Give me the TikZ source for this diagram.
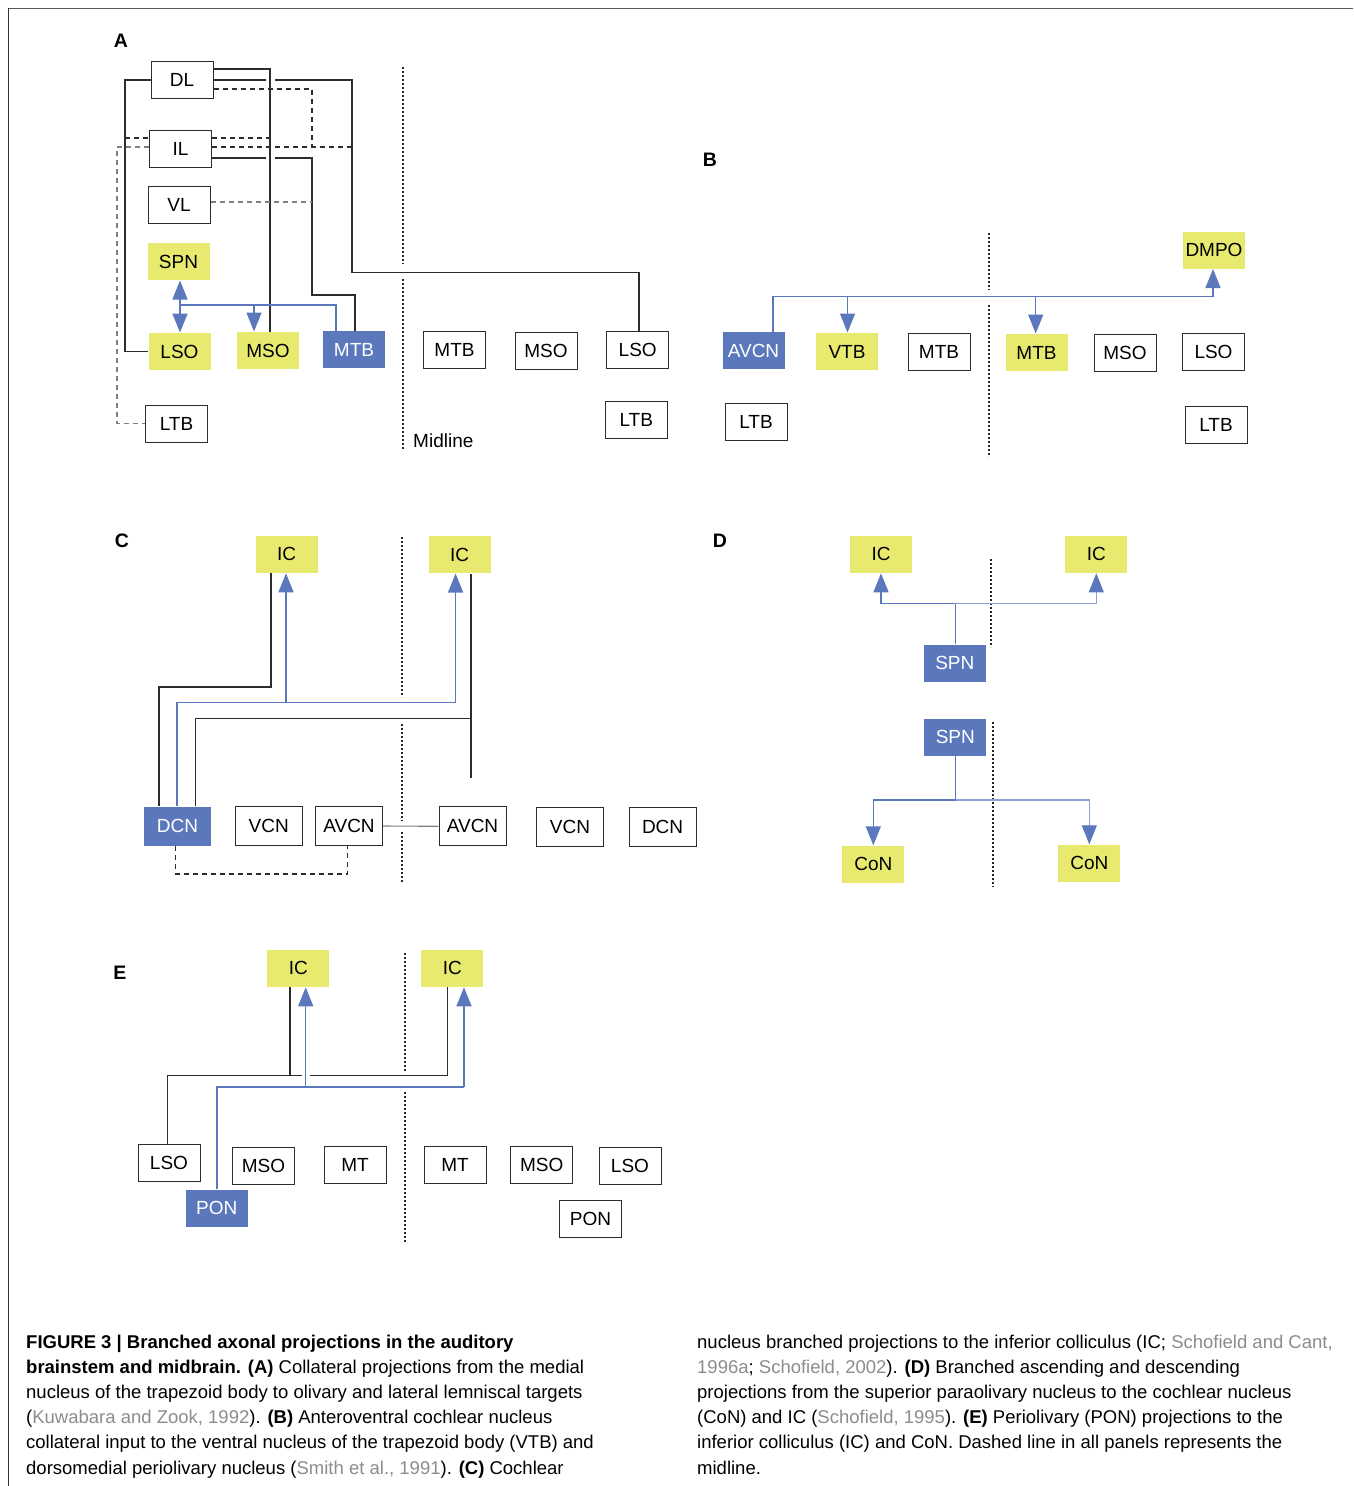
\documentclass[tikz,border=0pt]{standalone}
\usepackage{fontspec}
\setmainfont{Liberation Sans}
\usetikzlibrary{arrows.meta}
\definecolor{ylw}{RGB}{232,234,112}
\definecolor{blu}{RGB}{92,120,189}
\definecolor{blul}{RGB}{140,160,210}
\definecolor{edge}{RGB}{45,45,45}
\definecolor{cite}{RGB}{140,140,140}
\tikzset{
 nbox/.style={draw=edge, line width=1pt, fill=white, minimum width=62pt, minimum height=37pt, inner sep=0pt, font=\fontsize{19}{20}\selectfont, text=black},
 cbox/.style={nbox, minimum width=67pt, minimum height=39pt},
 ybox/.style={nbox, draw=none, fill=ylw},
 bbox/.style={nbox, draw=none, fill=blu, text=white},
 conn/.style={draw=edge, line width=1.1pt},
 dsh/.style={conn, dash pattern=on 5pt off 4pt},
 gdsh/.style={dsh, draw=gray},
 bl/.style={draw=blu, line width=1.5pt},
 barr/.style={bl, -{Triangle[length=19pt,width=15pt,color=blu]}},
 lbarr/.style={barr, draw=blul, line width=1.2pt},
 midl/.style={draw=black!85, line width=2pt, dash pattern=on 1.6pt off 2.4pt},
 paneltxt/.style={font=\fontsize{19.5}{20}\selectfont\bfseries, inner sep=0pt},
 captxt/.style={anchor=base west, inner sep=0pt, font=\fontsize{18.5}{22}\selectfont},
}
\newcommand{\cit}[1]{\textcolor{cite}{#1}}
\begin{document}
\begin{tikzpicture}[x=1pt,y=-1pt]
\useasboundingbox (0,0) rectangle (1353,1486);
% frame
\draw[draw=gray!70!black, line width=1.6pt] (8,8.5) -- (1353,8.5);
\draw[draw=black!80, line width=1.2pt] (8.5,8) -- (8.5,1486);

% ---------------- Panel A ----------------
\node[paneltxt] (labA) at (121,41) {A};
\node[nbox] (aDL) at (182,80) {DL};
\node[nbox] (aIL) at (180.5,148.5) {IL};
\node[nbox] (aVL) at (179,204.5) {VL};
\node[ybox] (aSPN) at (178.5,261.5) {SPN};
\node[ybox] (aLSO) at (179.5,351.5) {LSO};
\node[ybox] (aMSO) at (268,350.5) {MSO};
\node[bbox] (aMTB) at (354,349.5) {MTB};
\node[nbox] (aLTB) at (176.5,423.5) {LTB};
\node[nbox] (aMTB2) at (454.5,350) {MTB};
\node[nbox] (aMSO2) at (546,350.8) {MSO};
\node[nbox] (aLSO2) at (637.7,350.3) {LSO};
\node[nbox] (aLTB2) at (636.3,420) {LTB};
\node[anchor=base west, inner sep=0pt, font=\fontsize{19}{20}\selectfont] (midlbl) at (413,447) {Midline};
\draw[midl] (403,67) -- (403,264);
\draw[midl] (403,279) -- (403,450);
% solid
\draw[conn] (aLSO.west) -- (125,351.5) |- (aDL.west);
\draw[conn] (aDL.east |- 0,69) -- (270,69) -- (270,0 |- aMSO.north);
\draw[conn] (aDL.east) -- (266,80);
\draw[conn] (275,80) -- (352,80) -- (352,272.3) -- (639,272.3) -- (639,0 |- aLSO2.north);
\draw[conn] (aIL.east |- 0,158) -- (266,158);
\draw[conn] (275,158) -- (312,158) -- (312,295) -- (355,295) -- (355,0 |- aMTB.north);
% dashed
\draw[dsh] (aDL.east |- 0,89) -- (312,89) -- (312,147);
\draw[gdsh] (aVL.east |- 0,202) -- (312,202);
\draw[dsh] (125,138) -- (aIL.west |- 0,138);
\draw[dsh] (aIL.east |- 0,138) -- (270,138);
\draw[dsh] (aIL.east |- 0,147) -- (352,147);
\draw[gdsh] (aIL.west |- 0,147) -- (117,147) |- (aLTB.west);
% blue
\draw[bl] (336,0 |- aMTB.north) -- (336,305) -- (180,305);
\draw[barr] (180,305) -- (180,0 |- aSPN.south);
\draw[barr] (180,305) -- (180,0 |- aLSO.north);
\draw[barr] (254,305) -- (254,0 |- aMSO.north);

% ---------------- Panel B ----------------
\node[paneltxt] (labB) at (710,160) {B};
\node[ybox] (bDMPO) at (1214,250) {DMPO};
\node[bbox] (bAVCN) at (753.5,350.5) {AVCN};
\node[ybox] (bVTB) at (847,351.5) {VTB};
\node[nbox] (bMTB) at (939,351.5) {MTB};
\node[ybox] (bMTB2) at (1036.5,352.5) {MTB};
\node[nbox] (bMSO) at (1125,352.5) {MSO};
\node[nbox] (bLSO) at (1213.5,352) {LSO};
\node[nbox] (bLTB) at (756,421.5) {LTB};
\node[nbox] (bLTB2) at (1216,424.7) {LTB};
\draw[midl] (989,233) -- (989,290);
\draw[midl] (989,305) -- (989,457);
\draw[bl] (773,0 |- bAVCN.north) -- (773,296.7) -- (1213,296.7);
\draw[barr] (1213,296.7) -- (1213,0 |- bDMPO.south);
\draw[barr] (847.5,296.7) -- (847.5,0 |- bVTB.north);
\draw[barr] (1035.7,296.7) -- (1035.7,0 |- bMTB2.north);

% ---------------- Panel C ----------------
\node[paneltxt] (labC) at (122,541) {C};
\node[ybox] (cIC1) at (286.7,554.3) {IC};
\node[ybox] (cIC2) at (459.5,554.5) {IC};
\node[cbox, draw=none, fill=blu, text=white] (cDCN) at (177.5,826) {DCN};
\node[cbox] (cVCN) at (268.7,826) {VCN};
\node[cbox] (cAVCN) at (349,826) {AVCN};
\node[cbox] (cAVCN2) at (472.5,826.3) {AVCN};
\node[cbox] (cVCN2) at (570,827) {VCN};
\node[cbox] (cDCN2) at (662.6,827) {DCN};
\coordinate (cEnd) at (471,778);
\draw[midl] (402,537) -- (402,697);
\draw[midl] (402,724) -- (402,821);
\draw[midl] (402,832) -- (402,883);
\draw[conn] (159,0 |- cDCN.north) -- (159,687) -- (271,687) -- (271,0 |- cIC1.south);
\draw[bl] (176.8,0 |- cDCN.north) -- (176.8,702.7) -- (455.6,702.7);
\draw[barr] (455.6,702.7) -- (455.6,0 |- cIC2.south);
\draw[barr] (286,702.7) -- (286,0 |- cIC1.south);
\draw[conn] (195.4,0 |- cDCN.north) -- (195.4,718.3) -- (471,718.3);
\draw[conn] (471,0 |- cIC2.south) -- (cEnd);
\draw[conn, draw=gray] (cAVCN.east) -- (cAVCN2.west);
\draw[dsh] (175.7,0 |- cDCN.south) -- (175.7,874) -- (347.5,874) -- (347.5,0 |- cAVCN.south);

% ---------------- Panel D ----------------
\node[paneltxt] (labD) at (720,541) {D};
\node[ybox] (dIC1) at (881,554.3) {IC};
\node[ybox] (dIC2) at (1096.3,554.3) {IC};
\node[bbox] (dSPN1) at (954.8,663.3) {SPN};
\node[bbox] (dSPN2) at (955.3,737.3) {SPN};
\node[ybox] (dCoN1) at (873.3,864.3) {CoN};
\node[ybox] (dCoN2) at (1089.3,863.3) {CoN};
\draw[midl] (991,559) -- (991,647);
\draw[midl] (993.3,722) -- (993.3,887);
\draw[bl] (955.3,0 |- dSPN1.north) -- (955.3,603.3);
\draw[barr] (955.3,603.3) -| (dIC1.south);
\draw[lbarr] (955.3,603.3) -| (dIC2.south);
\draw[bl] (955.5,0 |- dSPN2.south) -- (955.5,800);
\draw[barr] (955.5,800) -| (dCoN1.north);
\draw[lbarr] (955.5,800) -| (dCoN2.north);

% ---------------- Panel E ----------------
\node[paneltxt] (labE) at (120,973) {E};
\node[ybox] (eIC1) at (298.3,968.3) {IC};
\node[ybox] (eIC2) at (452.3,968.3) {IC};
\node[nbox] (eLSO) at (169,1163.3) {LSO};
\node[nbox] (eMSO) at (263.4,1165.7) {MSO};
\node[nbox] (eMT) at (355,1165) {MT};
\node[nbox] (eMT2) at (455,1165) {MT};
\node[nbox] (eMSO2) at (541.8,1165) {MSO};
\node[nbox] (eLSO2) at (630,1165.8) {LSO};
\node[bbox] (ePON) at (216.8,1208.3) {PON};
\node[nbox] (ePON2) at (590.5,1218.7) {PON};
\draw[midl] (405,953) -- (405,1071);
\draw[midl] (405,1092) -- (405,1242);
\draw[conn] (167.5,0 |- eLSO.north) -- (167.5,1075.3) -- (302,1075.3);
\draw[conn] (310,1075.3) -- (447.5,1075.3) -- (447.5,0 |- eIC2.south);
\draw[conn] (290,1075.3) -- (290,0 |- eIC1.south);
\draw[bl] (217,0 |- ePON.north) -- (217,1087) -- (464,1087);
\draw[barr] (464,1087) -- (464,0 |- eIC2.south);
\draw[barr] (305.7,1087) -- (305.7,0 |- eIC1.south);

% ---------------- Caption ----------------
\node[captxt] (l1) at (26,1348) {\textbf{FIGURE 3 | Branched axonal projections in the auditory}};
\node[captxt] (l2) at (26,1373.2) {\textbf{brainstem and midbrain. (A)} Collateral projections from the medial};
\node[captxt] (l3) at (26,1398.4) {nucleus of the trapezoid body to olivary and lateral lemniscal targets};
\node[captxt] (l4) at (26,1423.6) {(\cit{Kuwabara and Zook, 1992}). \textbf{(B)} Anteroventral cochlear nucleus};
\node[captxt] (l5) at (26,1448.8) {collateral input to the ventral nucleus of the trapezoid body (VTB) and};
\node[captxt] (l6) at (26,1474) {dorsomedial periolivary nucleus (\cit{Smith et al., 1991}). \textbf{(C)} Cochlear};
\node[captxt] (r1) at (697,1348) {nucleus branched projections to the inferior colliculus (IC; \cit{Schofield and Cant,}};
\node[captxt] (r2) at (697,1373.2) {\cit{1996a}; \cit{Schofield, 2002}). \textbf{(D)} Branched ascending and descending};
\node[captxt] (r3) at (697,1398.4) {projections from the superior paraolivary nucleus to the cochlear nucleus};
\node[captxt] (r4) at (697,1423.6) {(CoN) and IC (\cit{Schofield, 1995}). \textbf{(E)} Periolivary (PON) projections to the};
\node[captxt] (r5) at (697,1448.8) {inferior colliculus (IC) and CoN. Dashed line in all panels represents the};
\node[captxt] (r6) at (697,1474) {midline.};
\end{tikzpicture}
\end{document}
